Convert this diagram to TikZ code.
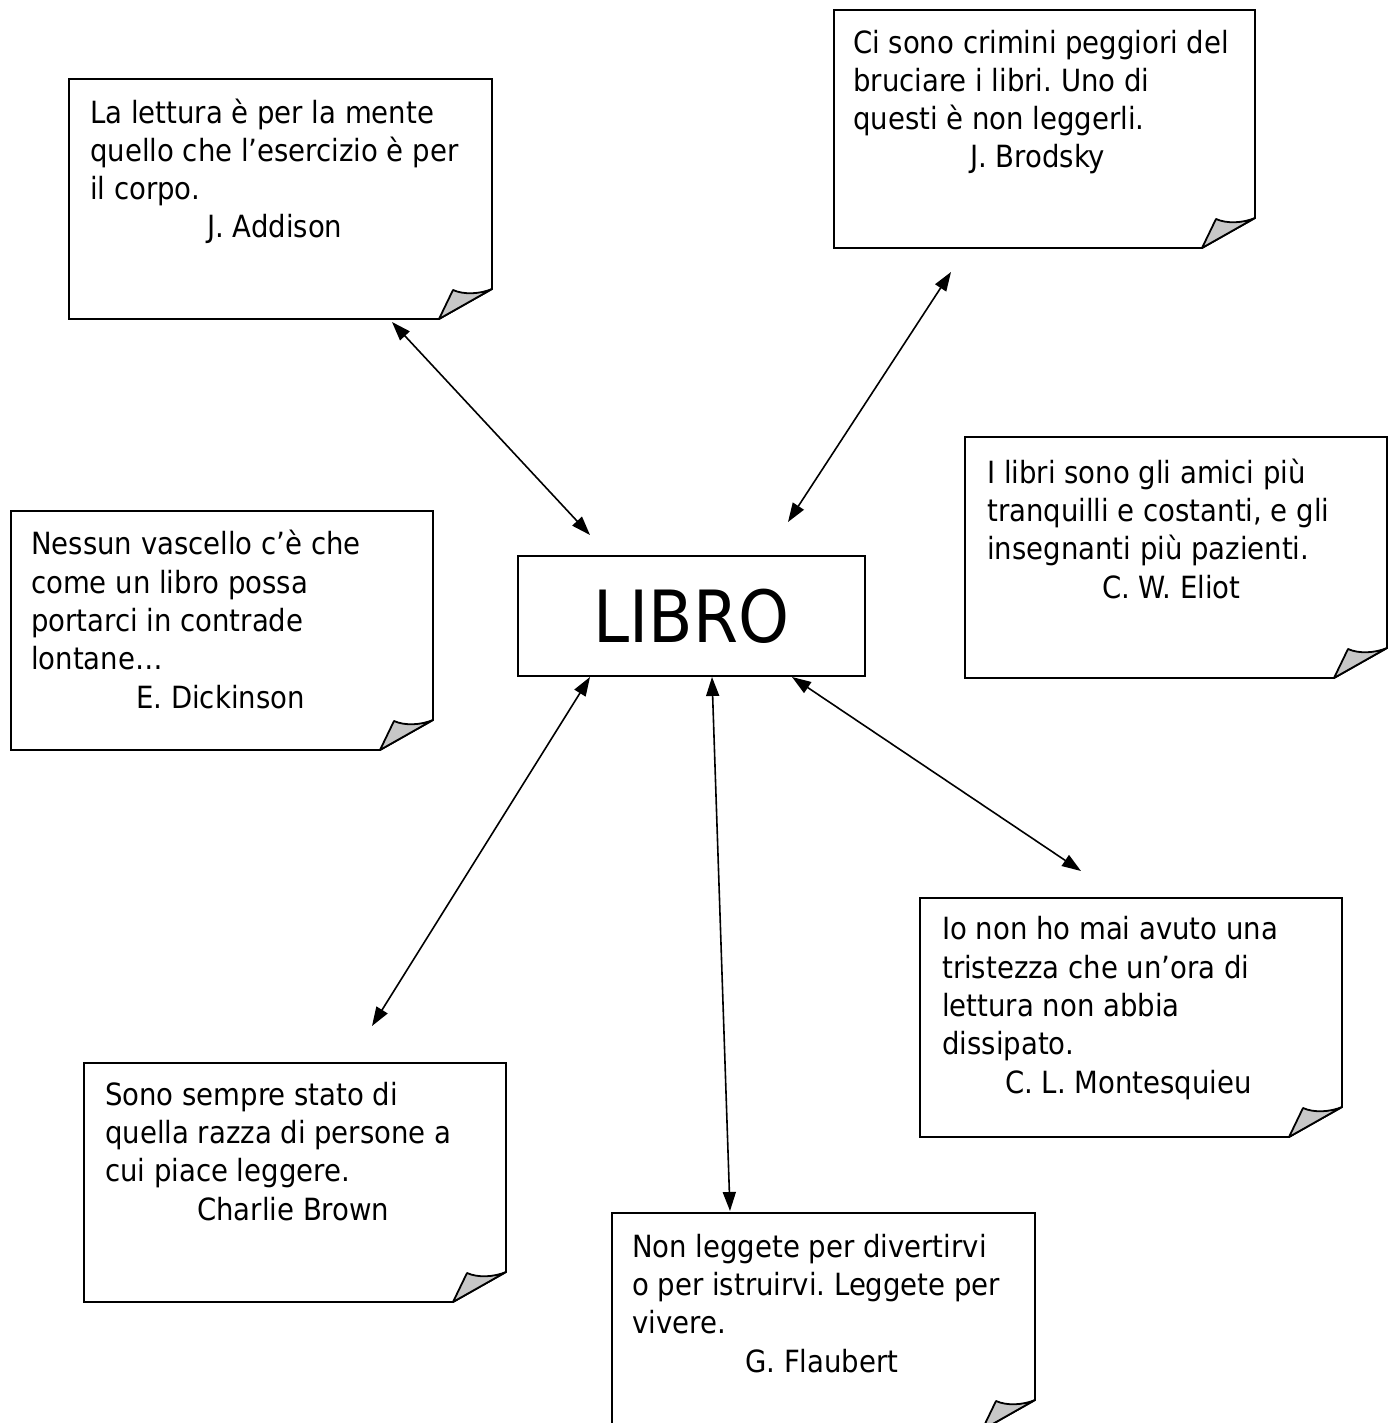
\documentclass[tikz,border=0pt]{standalone}
\usepackage{fontspec}
\setmainfont{DejaVu Sans Condensed}
\usetikzlibrary{arrows.meta}
\usetikzlibrary{positioning}
\frenchspacing

\tikzset{
  bordo/.style={draw, line width=1.8pt, fill=white},
  piega/.style={draw, line width=1.8pt, fill=black!22, line join=round},
  citazione/.style={anchor=base west, inner sep=0pt, align=left,
    font=\fontsize{30.6}{38.3}\selectfont},
  freccia/.style={line width=1.6pt, {Triangle[length=19pt,width=13pt]}-{Triangle[length=19pt,width=13pt]}}
}

\newcommand{\foglio}[5]{%
  \draw[bordo] (#2,#3) -- (#4,#3) -- (#4,#5-30) -- (#4-53,#5) -- (#2,#5) -- cycle;
  \filldraw[piega] (#4-53,#5) -- (#4-39,#5-29) .. controls (#4-28,#5-24) and (#4-12,#5-25) .. (#4,#5-30) -- cycle;
  \coordinate (#1) at (#2,#3);
}

\begin{document}
\begin{tikzpicture}[x=1pt, y=-1pt]
    \useasboundingbox (0,0) rectangle (1396,1423);

    \foglio{addison}{69}{79}{492}{319}
    \foglio{brodsky}{834}{10}{1255}{248}
    \foglio{eliot}{965}{437}{1387}{678}
    \foglio{dickinson}{11}{511}{433}{750}
    \foglio{montesquieu}{920}{898}{1342}{1137}
    \foglio{brown}{84}{1063}{506}{1302}
    \foglio{flaubert}{612}{1213}{1035}{1430}

    \node[citazione] (addisonTxt) at (90,238)
      {La lettura è per la mente\\quello che l’esercizio è per\\il corpo.\\\hspace*{117pt}J. Addison};
    \node[citazione] (brodskyTxt) at (853,168)
      {Ci sono crimini peggiori del\\bruciare i libri. Uno di\\questi è non leggerli.\\\hspace*{117pt}J. Brodsky};
    \node[citazione] (eliotTxt) at (987,598)
      {I libri sono gli amici più\\tranquilli e costanti, e gli\\insegnanti più pazienti.\\\hspace*{115pt}C. W. Eliot};
    \node[citazione] (dickinsonTxt) at (31,708)
      {Nessun vascello c’è che\\come un libro possa\\portarci in contrade\\lontane…\\\hspace*{105pt}E. Dickinson};
    \node[citazione] (montesquieuTxt) at (942,1093)
      {Io non ho mai avuto una\\tristezza che un’ora di\\lettura non abbia\\dissipato.\\\hspace*{63pt}C. L. Montesquieu};
    \node[citazione] (brownTxt) at (105,1220)
      {Sono sempre stato di\\quella razza di persone a\\cui piace leggere.\\\hspace*{92pt}Charlie Brown};
    \node[citazione] (flaubertTxt) at (632,1372)
      {Non leggete per divertirvi\\o per istruirvi. Leggete per\\vivere.\\\hspace*{113pt}G. Flaubert};

    \node[draw, line width=1.8pt, minimum width=347pt, minimum height=120pt,
      font=\fontsize{72}{80}\selectfont] (libro) at (691.5,616) {LIBRO};

    \coordinate (libroA) at (590,535);
    \coordinate (libroB) at (788,522);
    \coordinate (libroC) at (590,677);
    \coordinate (libroD) at (712,677);
    \coordinate (libroE) at (792,677);
    \coordinate (addisonA) at (392,322);
    \coordinate (brodskyA) at (951,272);
    \coordinate (brownA) at (372,1026);
    \coordinate (flaubertA) at (730,1211);
    \coordinate (montesquieuA) at (1081,871);

    \draw[freccia] (addisonA) -- (libroA);
    \draw[freccia] (brodskyA) -- (libroB);
    \draw[freccia] (libroC) -- (brownA);
    \draw[freccia] (libroD) -- (flaubertA);
    \draw[freccia] (libroE) -- (montesquieuA);
\end{tikzpicture}
\end{document}
